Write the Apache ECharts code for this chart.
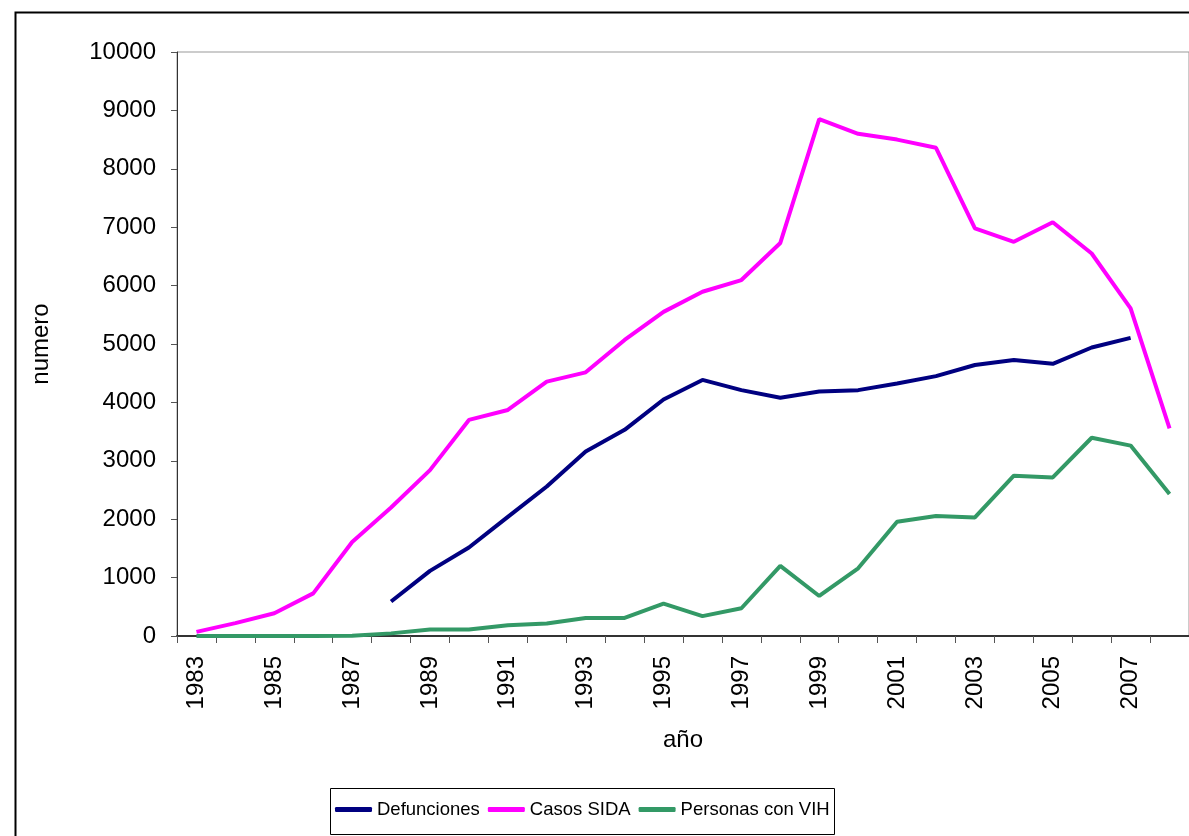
<!DOCTYPE html>
<html>
<head>
<meta charset="utf-8">
<script src="https://cdn.jsdelivr.net/npm/echarts@6/dist/echarts.min.js"></script>
<style>
html,body{margin:0;padding:0;background:#fff;}
#chart{width:1189px;height:836px;}
</style>
</head>
<body>
<div id="chart"></div>
<script>
const years = ['1983','1984','1985','1986','1987','1988','1989','1990','1991','1992','1993','1994','1995','1996','1997','1998','1999','2000','2001','2002','2003','2004','2005','2006','2007','2008'];
const defunciones = [null,null,null,null,null,590,1115,1515,2040,2560,3160,3530,4050,4385,4210,4080,4185,4210,4325,4450,4640,4725,4660,4940,5105,null];
const casosSida = [70,220,390,730,1610,2200,2840,3700,3870,4355,4515,5070,5550,5895,6095,6730,8850,8600,8500,8360,6980,6750,7085,6550,5610,3555];
const personasVih = [0,0,0,0,5,45,110,110,185,215,310,310,555,340,475,1200,685,1160,1955,2055,2030,2745,2715,3395,3260,2430];
const seriesNames = ['Defunciones','Casos SIDA','Personas con VIH'];
const seriesColors = ['#000080','#FF00FF','#339966'];

const font = '"Liberation Sans", Arial, sans-serif';
const chart = echarts.init(document.getElementById('chart'), null, {renderer:'canvas'});
const dataSets = [defunciones, casosSida, personasVih];
chart.setOption({
  animation:false,
  backgroundColor:'#fff',
  graphic:[
    {type:'rect', left:13, top:10, shape:{width:1220, height:900}, style:{fill:null, stroke:'#000', lineWidth:2}, silent:true},
    {type:'rect', left:328, top:786, shape:{width:504, height:46}, style:{fill:null, stroke:'#000', lineWidth:1}, silent:true, z:10}
  ],
  grid:{left:177, top:52, width:1014, height:584, show:true, borderColor:'#999', borderWidth:1, backgroundColor:'transparent'},
  legend:{
    left:335, top:800, itemGap:8, itemWidth:37, itemHeight:5, icon:'roundRect',
    padding:0,
    textStyle:{fontFamily:font, fontSize:18.5, color:'#000'},
    data:seriesNames
  },
  xAxis:{
    type:'category', data:years, boundaryGap:true,
    name:'año', nameLocation:'middle', nameGap:92,
    nameTextStyle:{fontFamily:font, fontSize:24, color:'#000'},
    axisLine:{lineStyle:{color:'#333', width:2}},
    axisTick:{show:true, interval:0, length:7, lineStyle:{color:'#555'}},
    axisLabel:{interval:1, rotate:90, margin:20, fontFamily:font, fontSize:24, color:'#000'},
    splitLine:{show:false}
  },
  yAxis:{
    type:'value', min:0, max:10000, interval:1000,
    name:'numero', nameLocation:'middle', nameGap:124, nameRotate:90,
    nameTextStyle:{fontFamily:font, fontSize:24, color:'#000'},
    axisLine:{show:true, lineStyle:{color:'#333', width:1}},
    axisTick:{show:true, length:6, lineStyle:{color:'#555'}},
    axisLabel:{margin:21, fontFamily:font, fontSize:24, color:'#000', formatter:(v)=>String(v)},
    splitLine:{show:false}
  },
  series: seriesNames.map((n,i)=>({
    name:n, type:'line', data:dataSets[i], showSymbol:false, symbol:'none',
    connectNulls:false,
    lineStyle:{color:seriesColors[i], width:4},
    itemStyle:{color:seriesColors[i]},
    z: i===2 ? 3 : 2
  }))
});
</script>
</body>
</html>
